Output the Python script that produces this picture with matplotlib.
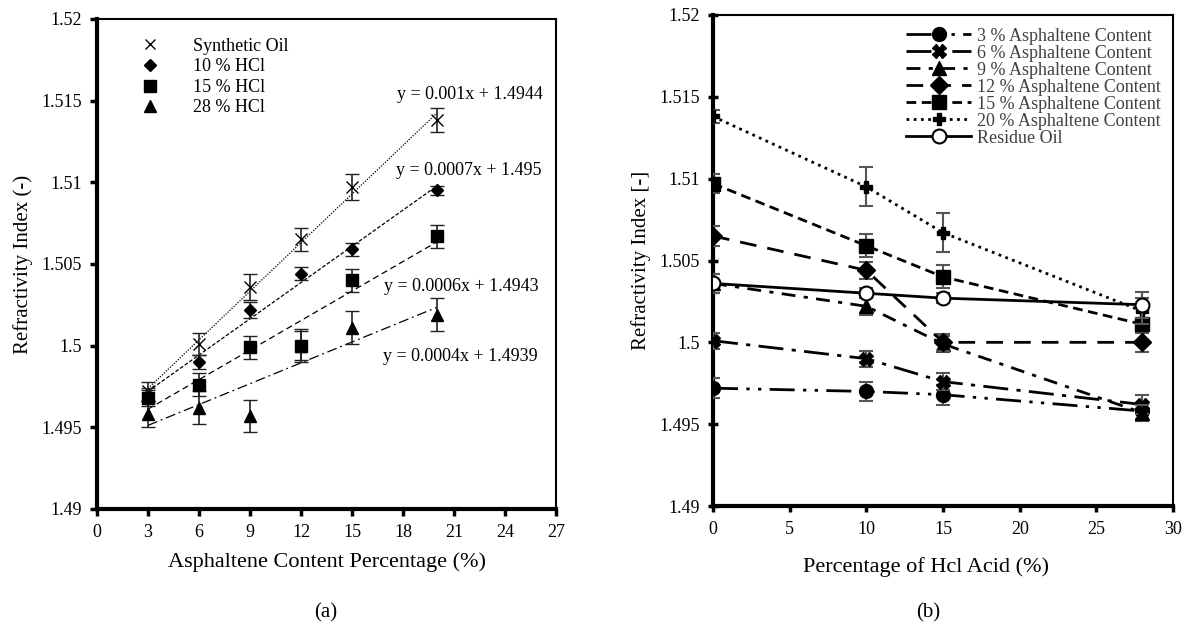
import numpy as np
import matplotlib
matplotlib.use("Agg")
import matplotlib.pyplot as plt
from matplotlib.lines import Line2D
from matplotlib.ticker import FuncFormatter, MultipleLocator

plt.rcParams["font.family"] = ["Liberation Serif", "DejaVu Serif"]

# ── (a) refractive index vs asphaltene content ──
asph = [3, 6, 9, 12, 15, 20]
synthetic = [1.4972, 1.5001, 1.5036, 1.5065, 1.5097, 1.5138]
hcl10 = [1.4970, 1.4990, 1.5022, 1.5044, 1.5059, 1.5095]
hcl15 = [1.4968, 1.4976, 1.4999, 1.5000, 1.5040, 1.5067]
hcl28 = [1.4958, 1.4962, 1.4957, 1.5000, 1.5011, 1.5019]
err_synthetic = [0.0006, 0.0007, 0.0008, 0.0007, 0.0008, 0.00075]
err_hcl10 = [0.0004, 0.0004, 0.0005, 0.0004, 0.0004, 0.0003]
err_hcl15 = [0.0005, 0.0007, 0.0007, 0.0010, 0.0007, 0.0007]
err_hcl28 = [0.0008, 0.0010, 0.0010, 0.0009, 0.0010, 0.0010]
left_names = ["Synthetic Oil", "10 % HCl", "15 % HCl", "28 % HCl"]
equations = ["y = 0.001x + 1.4944", "y = 0.0007x + 1.495",
             "y = 0.0006x + 1.4943", "y = 0.0004x + 1.4939"]

# ── (b) refractive index vs HCl percentage ──
hcl = [0, 10, 15, 28]
asph_names = ["3 % Asphaltene Content", "6 % Asphaltene Content",
              "9 % Asphaltene Content", "12 % Asphaltene Content",
              "15 % Asphaltene Content", "20 % Asphaltene Content"]
residue = [1.5036, 1.5030, 1.5027, 1.5023]
err_b = [[0.0006, 0.0006, 0.0006, 0.0005],
         [0.0005, 0.0005, 0.0005, 0.0006],
         [0.0006, 0.0005, 0.0005, 0.0005],
         [0.0006, 0.0005, 0.0005, 0.0006],
         [0.0006, 0.0007, 0.0007, 0.0003],
         [0.0004, 0.0012, 0.0012, 0.0008]]
err_residue = [0.0006, 0.0003, 0.0003, 0.0008]

# mesmas medidas, vistas por teor de asfalteno
tabela = np.array([synthetic, hcl10, hcl15, hcl28])

fig = plt.figure(figsize=(11.86, 6.3), dpi=100)
ax1 = fig.add_axes([0.0818, 0.1921, 0.3870, 0.7778])
ax2 = fig.add_axes([0.6012, 0.1968, 0.3879, 0.7794])

fmt = FuncFormatter(lambda v, p: "%g" % round(v, 4))

# ── painel (a) ──
marks = ["x", "D", "s", "^"]
msizes = [8, 6, 8, 8]
ls_fit = [(0, (1, 1.2)), (0, (3, 1.5)), (0, (5, 3)), (0, (8, 3, 1.5, 3))]
series = [synthetic, hcl10, hcl15, hcl28]
errs = [err_synthetic, err_hcl10, err_hcl15, err_hcl28]
zorders = [3, 4, 6, 5]
for y, e, m, ms, z in zip(series, errs, marks, msizes, zorders):
    ax1.errorbar(asph, y, yerr=e, fmt=m, ms=ms, color="black", mfc="black",
                 mew=1.0, ecolor="#222222", elinewidth=1.2, capsize=5,
                 capthick=1.2, zorder=z)
xs = np.array([asph[0], asph[-1]])
for y, ls in zip(series, ls_fit):
    a, b = np.polyfit(asph, y, 1)
    ax1.plot(xs, a * xs + b, color="black", lw=0.9, ls=ls, zorder=2)

eq_pos = [(17.65, 1.5154), (17.6, 1.5107), (16.9, 1.5036), (16.8, 1.49935)]
for (ex, ey), t in zip(eq_pos, equations):
    ax1.text(ex, ey, t, fontsize=13, ha="left", va="center")

handles = [Line2D([], [], marker=m, ls="none", color="black", ms=ms)
           for m, ms in zip(marks, [7, 6, 8, 8])]
ax1.legend(handles, left_names, loc="upper left", bbox_to_anchor=(0.04, 0.995),
           frameon=False, fontsize=13, handletextpad=1.4, labelspacing=0.2)

ax1.set_xlim(0, 27)
ax1.set_ylim(1.49, 1.52)
ax1.xaxis.set_major_locator(MultipleLocator(3))
ax1.yaxis.set_major_locator(MultipleLocator(0.005))
ax1.yaxis.set_major_formatter(fmt)
ax1.set_xlabel("Asphaltene Content Percentage (%)", fontsize=16, labelpad=8)
ax1.set_ylabel("Refractivity Index (-)", fontsize=15, labelpad=6)
ax1.tick_params(labelsize=13, width=2.5, length=5, direction="out", pad=6)
for s in ["left", "bottom"]:
    ax1.spines[s].set_linewidth(3)
for s in ["top", "right"]:
    ax1.spines[s].set_linewidth(1.5)

# ── painel (b) ──
b_marks = ["o", "X", "^", "D", "s", "P"]
b_ms = [10, 10, 10, 9, 10, 9]
b_dash = [(0, (9, 3, 1.2, 3, 1.2, 3)), (0, (9, 3, 1.5, 3)),
          (0, (5, 3, 1.5, 3)), (0, (6, 4)), (0, (3.5, 2)), (0, (1, 1.6))]
for j in range(len(asph_names)):
    ax2.errorbar(hcl, tabela[:, j], yerr=err_b[j], marker=b_marks[j],
                 ms=b_ms[j], color="black", mfc="black", lw=2,
                 ls=b_dash[j], ecolor="#555555", elinewidth=1.5, capsize=5,
                 capthick=1.5, label=asph_names[j], zorder=3 + j)
ax2.errorbar(hcl, residue, yerr=err_residue, marker="o", ms=10,
             color="black", mfc="white", mew=1.5, lw=2, ls="-",
             ecolor="#555555", elinewidth=1.5, capsize=5, capthick=1.5,
             label="Residue Oil", zorder=10)

h, l = ax2.get_legend_handles_labels()
h = [hh[0] for hh in h]
leg = ax2.legend(h, l, loc="upper right", bbox_to_anchor=(1.0, 1.0),
                 frameon=False, fontsize=13, handlelength=3.6,
                 labelspacing=0.0, handletextpad=0.3, borderaxespad=0.3)
for t in leg.get_texts():
    t.set_color("#404040")

ax2.set_xlim(0, 30)
ax2.set_ylim(1.49, 1.52)
ax2.xaxis.set_major_locator(MultipleLocator(5))
ax2.yaxis.set_major_locator(MultipleLocator(0.005))
ax2.yaxis.set_major_formatter(fmt)
ax2.set_xlabel("Percentage of Hcl Acid (%)", fontsize=16, labelpad=8)
ax2.xaxis.set_label_coords(0.463, -0.105)
ax2.set_ylabel("Refractivity Index [-]", fontsize=15, labelpad=6)
ax2.tick_params(axis="y", labelsize=13, width=2.5, length=7,
                direction="inout", pad=6)
ax2.tick_params(axis="x", labelsize=13, width=2.5, length=4,
                direction="out", pad=7)
for s in ["left", "bottom"]:
    ax2.spines[s].set_linewidth(3)
for s in ["top", "right"]:
    ax2.spines[s].set_linewidth(1.5)

fig.text(326 / 1186, 1 - 613 / 630, "(a)", ha="center", va="center", fontsize=15)
fig.text(928 / 1186, 1 - 613 / 630, "(b)", ha="center", va="center", fontsize=15)

fig.savefig("out.png", dpi=100)
